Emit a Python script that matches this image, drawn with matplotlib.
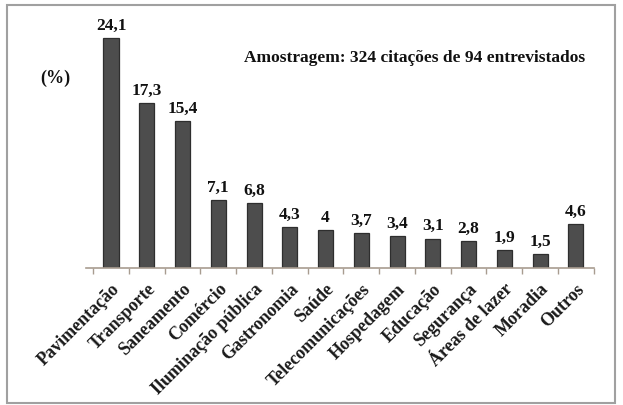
import matplotlib.pyplot as plt
from matplotlib.patches import Rectangle

# Categories and values (percent)
categories = ['Pavimentação', 'Transporte', 'Saneamento', 'Comércio',
              'Iluminação pública', 'Gastronomia', 'Saúde', 'Telecomunicações',
              'Hospedagem', 'Educação', 'Segurança', 'Áreas de lazer',
              'Moradia', 'Outros']
values = [24.1, 17.3, 15.4, 7.1, 6.8, 4.3, 4.0, 3.7, 3.4, 3.1, 2.8, 1.9, 1.5, 4.6]
value_labels = ['24,1', '17,3', '15,4', '7,1', '6,8', '4,3', '4', '3,7',
                '3,4', '3,1', '2,8', '1,9', '1,5', '4,6']

plt.rcParams['font.family'] = ['Liberation Serif', 'DejaVu Serif']
plt.rcParams['font.weight'] = 'bold'

fig = plt.figure(figsize=(6.23, 4.05), dpi=100)
fig.patch.set_facecolor('white')

# Gray frame around the chart
fig.patches.append(Rectangle((7 / 623, 2 / 405), 608 / 623, 398 / 405,
                             transform=fig.transFigure, fill=False,
                             edgecolor='#a0a0a0', linewidth=1.5))

ax = fig.add_axes([0.138, 0.338, 0.815, 0.612])
x = range(len(categories))
ax.bar(x, values, width=0.42, color='#4d4d4d', edgecolor='#2e2e2e', linewidth=0.9)

for xi, v, lab in zip(x, values, value_labels):
    ax.text(xi, v + 0.45, lab, ha='center', va='bottom', fontsize=12.5,
            fontweight='bold', color='#111111')

ax.set_xlim(-0.7, 13.5)
ax.set_ylim(0, 26)

for side in ['top', 'right', 'left']:
    ax.spines[side].set_visible(False)
ax.spines['bottom'].set_color('#a89c90')
ax.spines['bottom'].set_linewidth(1.2)

ax.set_yticks([])
ax.set_xticks(list(x))
ax.set_xticklabels(categories, rotation=45, ha='right', va='top',
                   rotation_mode='anchor', fontsize=13, fontweight='bold',
                   color='#1a1a1a')
ax.tick_params(axis='x', which='major', length=0, pad=9)
ax.set_xticks([i + 0.5 for i in range(-1, len(categories))], minor=True)
ax.tick_params(axis='x', which='minor', length=4, color='#a89c90', width=1)

fig.text(0.064, 0.795, '(%)', fontsize=13, fontweight='bold', color='#111111')
fig.text(0.392, 0.848, 'Amostragem: 324 citações de 94 entrevistados',
         fontsize=12.5, fontweight='bold', color='#111111')

plt.savefig('out.png', dpi=100)
